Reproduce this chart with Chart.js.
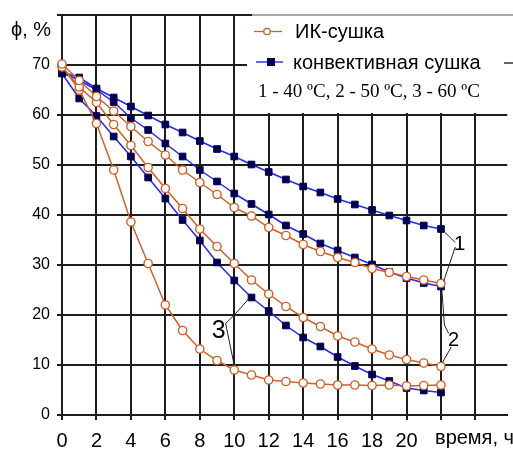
<!DOCTYPE html>
<html>
<head>
<meta charset="utf-8">
<script src="https://cdn.jsdelivr.net/npm/chart.js@4.4.1/dist/chart.umd.min.js"></script>
<style>
  html, body { margin: 0; padding: 0; background: #fff; }
  #wrap { width: 513px; height: 450px; }
  canvas { display: block; }
</style>
</head>
<body>
<div id="wrap"><canvas id="chart" width="513" height="450"></canvas></div>
<script>
// Drying time, hours
const hours = [0, 1, 2, 3, 4, 5, 6, 7, 8, 9, 10, 11, 12, 13, 14, 15, 16, 17, 18, 19, 20, 21, 22];

// Relative humidity ϕ, % — infrared drying (40, 50, 60 °C)
const ir40 = [70.2, 66.9, 63.7, 60.8, 57.7, 54.7, 52.0, 49.0, 46.5, 44.1, 41.5, 39.8, 37.5, 35.9, 34.1, 32.7, 31.5, 30.5, 29.3, 28.5, 27.7, 27.0, 26.3];
const ir50 = [69.6, 65.6, 62.5, 58.1, 53.9, 49.5, 45.3, 41.3, 37.2, 33.7, 30.3, 27.0, 24.2, 21.7, 19.5, 17.7, 15.8, 14.6, 13.2, 12.0, 11.1, 10.4, 9.7];
const ir60 = [69.8, 65.0, 58.3, 49.0, 38.6, 30.3, 22.0, 16.9, 13.2, 10.9, 9.0, 8.0, 7.0, 6.7, 6.4, 6.2, 6.0, 6.0, 5.9, 6.0, 5.8, 5.9, 6.0];

// Relative humidity ϕ, % — convective drying (40, 50, 60 °C)
const conv40 = [68.6, 67.5, 65.3, 63.5, 61.7, 59.9, 58.1, 56.5, 54.8, 53.2, 51.7, 50.1, 48.6, 47.1, 45.7, 44.5, 43.2, 42.1, 41.0, 39.9, 38.9, 37.9, 37.2];
const conv50 = [68.4, 67.0, 65.0, 62.6, 59.4, 57.0, 54.3, 51.7, 49.0, 46.7, 44.3, 42.2, 40.1, 37.9, 36.2, 34.3, 32.9, 31.5, 30.1, 28.6, 27.4, 26.4, 25.7];
const conv60 = [68.3, 63.3, 59.8, 55.7, 51.7, 47.5, 43.3, 39.0, 34.9, 30.5, 26.9, 23.5, 20.8, 17.9, 15.5, 13.7, 11.6, 9.8, 8.1, 6.8, 5.4, 4.9, 4.5];

// Axis ticks and texts
const xTicks = [0, 2, 4, 6, 8, 10, 12, 14, 16, 18, 20];
const yTicks = [0, 10, 20, 30, 40, 50, 60, 70];
const xTitle = 'время, ч';
const yTitle = 'ϕ, %';
const legendIR = 'ИК-сушка';
const legendConv = 'конвективная сушка';
const legendNote = '1 - 40 ºC, 2 - 50 ºC, 3 - 60 ºC';

const SANS = "'Liberation Sans', Arial, sans-serif";
const NARROW = "'Liberation Sans Narrow', 'Arial Narrow', 'Liberation Sans', Arial, sans-serif";
const SERIF = "'Liberation Serif', 'Times New Roman', serif";
const ORANGE = 'rgb(208,96,40)';
const BLUE = 'rgb(40,40,235)';
const NAVY = 'rgb(0,0,80)';
const GRID = '#1e1e1e';

const toPoints = (vals) => hours.map((h, i) => ({ x: h, y: vals[i] }));

const irStyle = {
  borderColor: ORANGE, borderWidth: 1.5,
  pointStyle: 'circle', pointRadius: 4.1, pointBorderWidth: 1.4,
  pointBackgroundColor: '#fff', pointBorderColor: ORANGE,
  tension: 0, clip: false
};
const convStyle = {
  borderColor: BLUE, borderWidth: 1.5,
  pointStyle: 'rect', pointRadius: 4.7, pointBorderWidth: 1,
  pointBackgroundColor: NAVY, pointBorderColor: NAVY,
  tension: 0, clip: false
};

// Numbered callouts: curve number, its position and leader lines (in data units)
const callouts = [
  { text: '1', size: 21, at: [23.08, 34.2],
    legs: [[[22.83, 34.5], [22.12, conv40[22] - 0.3]],
           [[22.83, 33.6], [22.15, ir40[22] + 0.4]]] },
  { text: '2', size: 20, at: [22.73, 15.0],
    legs: [[[22.05, conv50[22] - 0.6], [22.2, 18.0], [22.45, 16.3]],
           [[22.08, ir50[22] + 0.8], [22.6, 13.6]]] },
  { text: '3', size: 25, at: [9.1, 16.8],
    legs: [[[9.5, 18.3], [10.0, 20.0], [10.88, conv60[11] - 0.1]],
           [[9.5, 18.3], [9.97, ir60[10] + 1.4]]] }
];

const decor = {
  id: 'decor',
  afterDraw(chart) {
    const { ctx, scales: { x, y } } = chart;
    const px = (v) => x.getPixelForValue(v);
    const py = (v) => y.getPixelForValue(v);
    ctx.save();

    // callouts
    ctx.strokeStyle = '#222';
    ctx.lineWidth = 1;
    callouts.forEach(c => {
      c.legs.forEach(leg => {
        ctx.beginPath();
        leg.forEach((p, i) => {
          if (i === 0) ctx.moveTo(px(p[0]), py(p[1]));
          else ctx.lineTo(px(p[0]), py(p[1]));
        });
        ctx.stroke();
      });
      ctx.fillStyle = '#000';
      ctx.font = c.size + 'px ' + SANS;
      ctx.textAlign = 'center';
      ctx.textBaseline = 'middle';
      ctx.fillText(c.text, px(c.at[0]), py(c.at[1]));
    });

    // legend panel
    const top = chart.chartArea.top;
    ctx.fillStyle = '#fff';
    ctx.fillRect(247, top + 1, chart.width - 247, 97);
    ctx.strokeStyle = '#a8a8a8';
    ctx.lineWidth = 2;
    ctx.beginPath();
    ctx.moveTo(252, top);
    ctx.lineTo(chart.width, top);
    ctx.stroke();

    // IR entry
    ctx.strokeStyle = ORANGE;
    ctx.lineWidth = 1.3;
    ctx.beginPath(); ctx.moveTo(254, 31.5); ctx.lineTo(282, 31.5); ctx.stroke();
    ctx.fillStyle = '#fff';
    ctx.beginPath(); ctx.arc(267, 31.5, 3.2, 0, Math.PI * 2); ctx.fill(); ctx.stroke();
    // convective entry
    ctx.strokeStyle = BLUE;
    ctx.lineWidth = 1.4;
    ctx.beginPath(); ctx.moveTo(256, 62); ctx.lineTo(283, 62); ctx.stroke();
    ctx.fillStyle = NAVY;
    ctx.fillRect(267, 58, 8, 8);
    ctx.strokeStyle = '#333';
    ctx.lineWidth = 1.5;
    ctx.beginPath(); ctx.moveTo(504, 63); ctx.lineTo(chart.width, 63); ctx.stroke();

    ctx.fillStyle = '#000';
    ctx.textAlign = 'left';
    ctx.textBaseline = 'alphabetic';
    ctx.font = '20px ' + SANS;
    ctx.fillText(legendIR, 295, 37.5);
    ctx.fillText(legendConv, 293, 68.5);
    ctx.font = '19px ' + SERIF;
    ctx.fillText(legendNote, 258, 96.5);

    // axis titles
    ctx.font = '20px ' + SANS;
    ctx.fillText(yTitle, 11, 36);
    ctx.fillText(xTitle, 435, 443.5);

    ctx.restore();
  }
};

new Chart(document.getElementById('chart'), {
  type: 'line',
  data: {
    datasets: [
      { label: legendIR + ' 40', data: toPoints(ir40), ...irStyle },
      { label: legendIR + ' 50', data: toPoints(ir50), ...irStyle },
      { label: legendIR + ' 60', data: toPoints(ir60), ...irStyle },
      { label: legendConv + ' 40', data: toPoints(conv40), ...convStyle },
      { label: legendConv + ' 50', data: toPoints(conv50), ...convStyle },
      { label: legendConv + ' 60', data: toPoints(conv60), ...convStyle }
    ]
  },
  options: {
    responsive: false,
    animation: false,
    devicePixelRatio: 1,
    events: [],
    layout: { padding: { top: 15, right: 0, bottom: 0, left: 0 } },
    plugins: { legend: { display: false }, tooltip: { enabled: false } },
    scales: {
      x: {
        type: 'linear', min: 0, max: 25.85,
        afterBuildTicks: (s) => { s.ticks = [...xTicks, 22, 24].map(v => ({ value: v })); },
        afterFit: (s) => { s.height = 35; s.paddingLeft = 0; s.paddingRight = 0; },
        ticks: {
          autoSkip: false, maxRotation: 0, padding: 9, color: '#000',
          font: { family: NARROW, size: 20 },
          callback: (v) => xTicks.includes(v) ? String(v) : ''
        },
        grid: { color: GRID, lineWidth: 2, tickLength: 5, drawTicks: true },
        border: { display: true, color: GRID, width: 2 }
      },
      y: {
        type: 'linear', min: 0, max: 80,
        afterBuildTicks: (s) => { s.ticks = [...yTicks, 80].map(v => ({ value: v })); },
        afterFit: (s) => { s.width = 62; s.paddingTop = 0; s.paddingBottom = 0; },
        ticks: {
          padding: 7, color: '#000',
          font: { family: SANS, size: 16 },
          callback: (v) => yTicks.includes(v) ? String(v) : ''
        },
        grid: { color: GRID, lineWidth: 2, tickLength: 5, drawTicks: true },
        border: { display: true, color: GRID, width: 2 }
      }
    }
  },
  plugins: [decor]
});
</script>
</body>
</html>
